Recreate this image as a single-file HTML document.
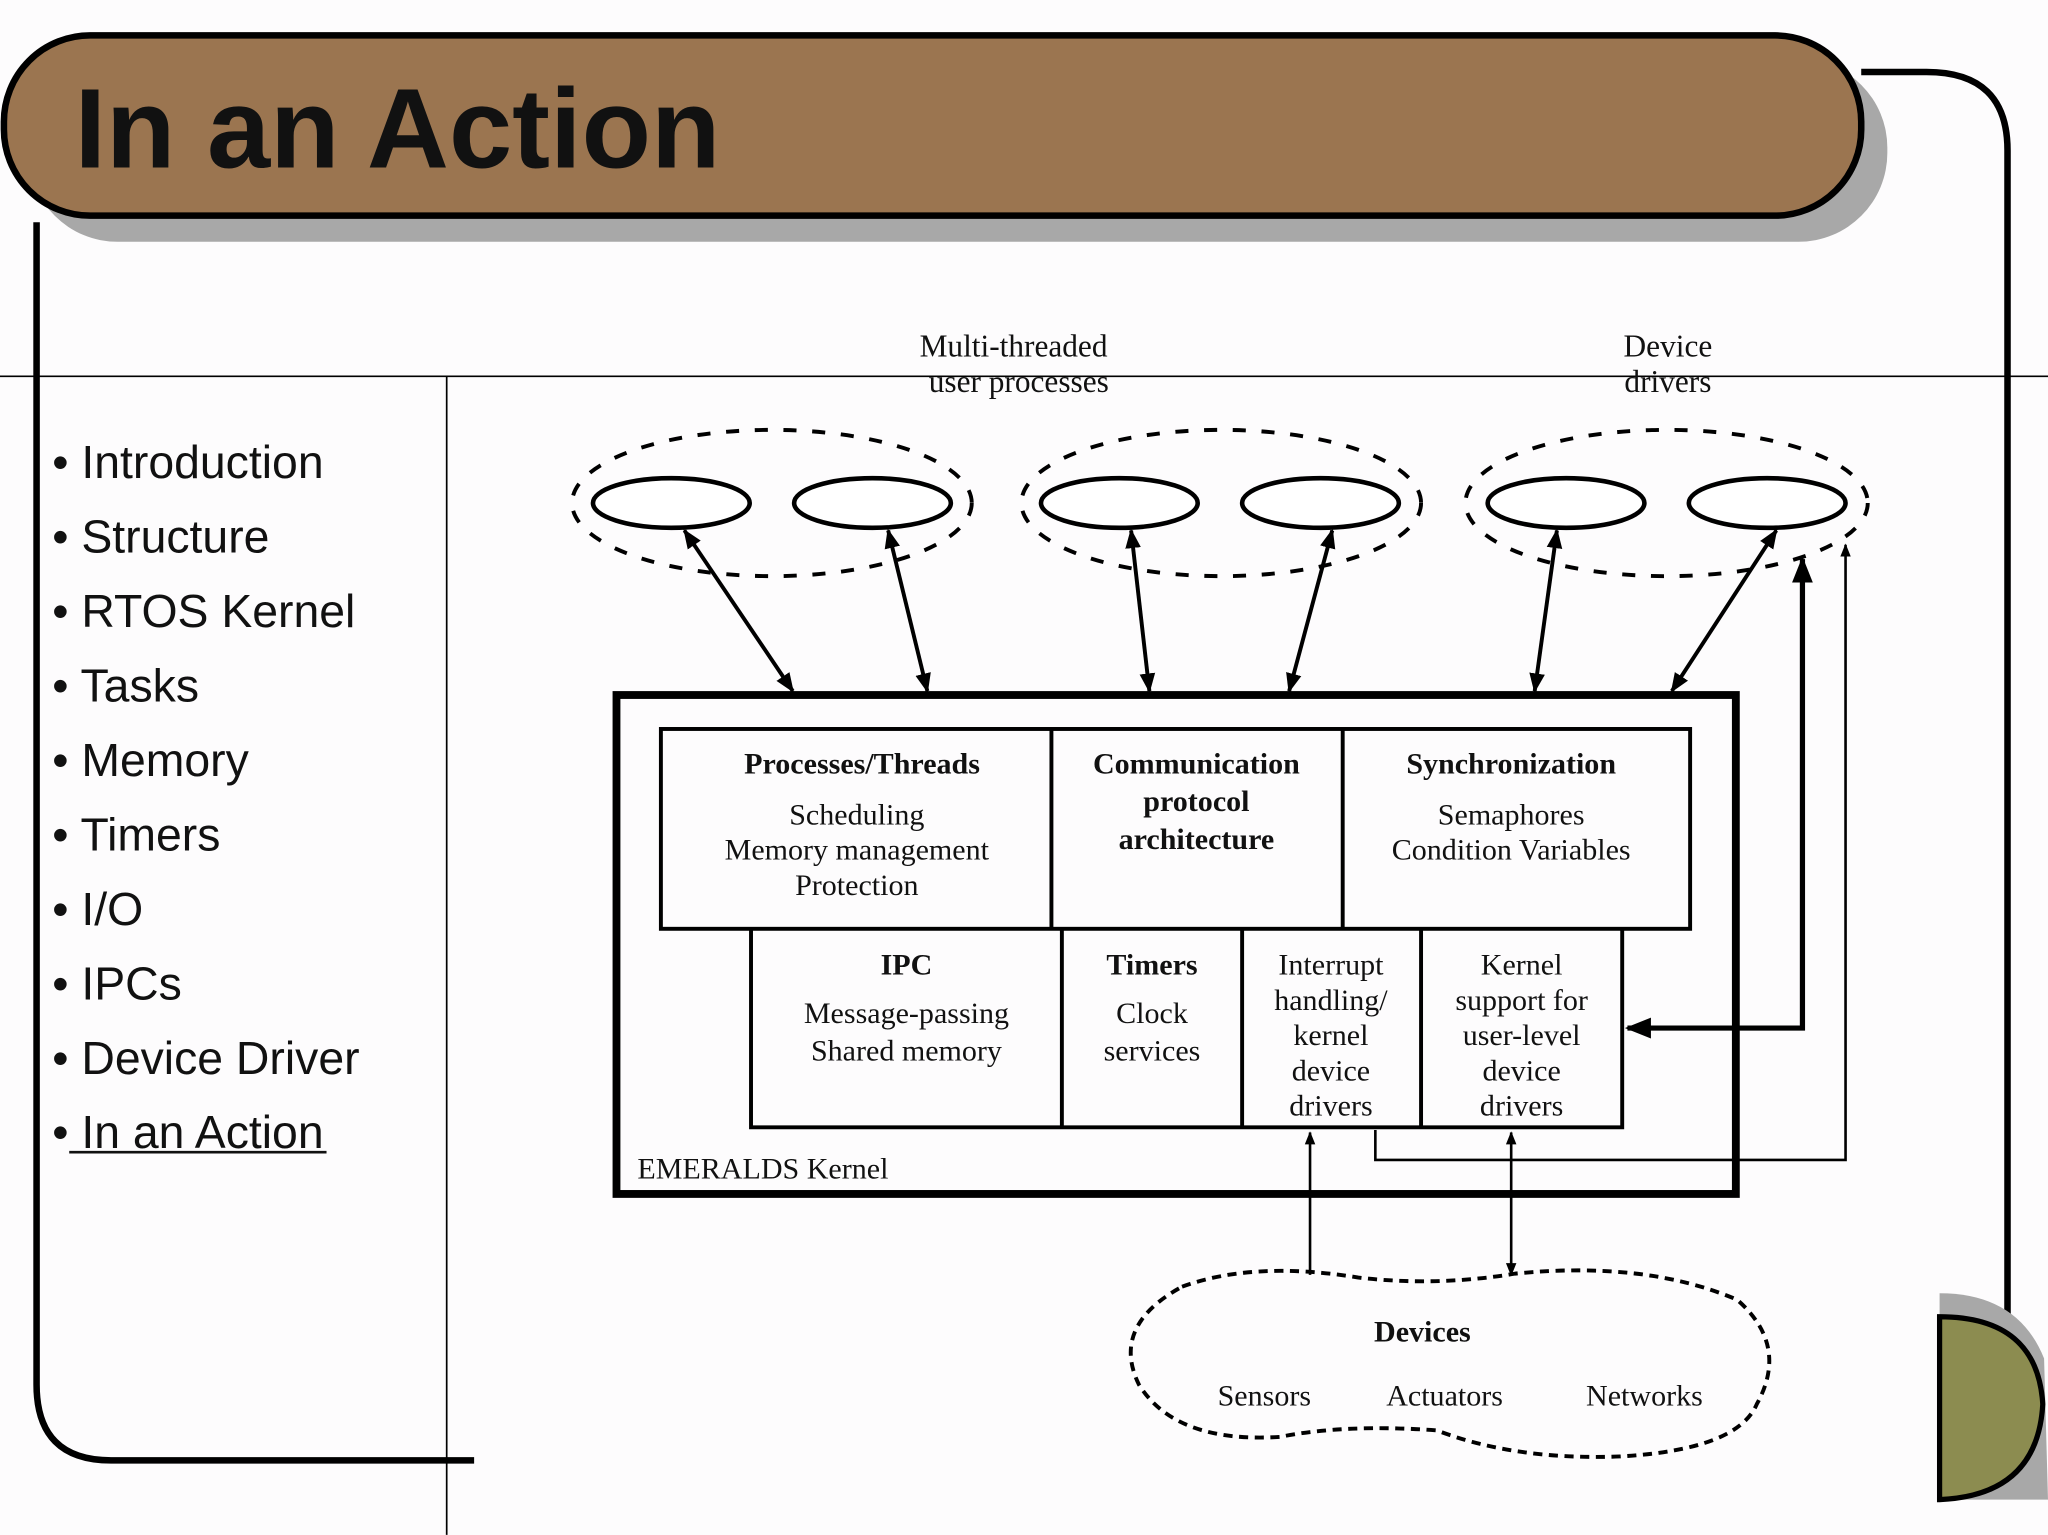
<!DOCTYPE html>
<html><head><meta charset="utf-8"><style>
html,body{margin:0;padding:0;background:#fff;width:2048px;height:1535px;overflow:hidden}
svg{display:block}
.s{font-family:"Liberation Serif",serif;fill:#111}
.b{font-family:"Liberation Sans",sans-serif;fill:#111}
</style></head><body>
<svg width="2048" height="1535" viewBox="0 0 1568 1175" xmlns="http://www.w3.org/2000/svg">
<defs>
<marker id="a" viewBox="0 0 10 10" refX="9" refY="5" markerWidth="5" markerHeight="5" orient="auto-start-reverse"><path d="M0,1 L10,5 L0,9 z" fill="#000"/></marker>
</defs>
<rect width="1568" height="1175" fill="#fdfcfd"/>
<path d="M1425,55 L1475,55 Q1537,55 1537,115 L1537,1010" fill="none" stroke="#000" stroke-width="5"/>
<path d="M28,170 L28,1060 Q28,1118 85,1118 L363,1118" fill="none" stroke="#000" stroke-width="5"/>
<rect x="22" y="45" width="1423" height="140" rx="68" fill="#a8a8a8"/>
<rect x="3" y="27" width="1422" height="138" rx="66" fill="#9b7550" stroke="#000" stroke-width="5"/>
<text x="57" y="128" class="b" font-size="87" font-weight="bold">In an Action</text>
<line x1="0" y1="288" x2="1568" y2="288" stroke="#000" stroke-width="1.3"/>
<line x1="342" y1="288" x2="342" y2="1175" stroke="#000" stroke-width="1.3"/>
<g class="b" font-size="35.5">
<text x="40" y="366">• Introduction</text>
<text x="40" y="423">• Structure</text>
<text x="40" y="480">• RTOS Kernel</text>
<text x="40" y="537">• Tasks</text>
<text x="40" y="594">• Memory</text>
<text x="40" y="651">• Timers</text>
<text x="40" y="708">• I/O</text>
<text x="40" y="765">• IPCs</text>
<text x="40" y="822">• Device Driver</text>
<text x="40" y="879">• In an Action</text>
</g>
<line x1="53" y1="882" x2="250" y2="882" stroke="#111" stroke-width="2"/>
<path d="M1485,990 Q1545,990 1565,1040 L1568,1148 L1485,1148 z" fill="#a8a8a8"/>
<path d="M1485,1008 Q1560,1008 1564,1075 Q1560,1145 1485,1148 z" fill="#8c8c50" stroke="#000" stroke-width="4"/>
<g class="s" font-size="24" text-anchor="middle">
<text x="776" y="273">Multi-threaded</text>
<text x="780" y="300">user processes</text>
<text x="1277" y="273">Device</text>
<text x="1277" y="300">drivers</text>
</g>
<g fill="none" stroke="#000" stroke-width="3" stroke-dasharray="10,12">
<ellipse cx="591" cy="385" rx="153" ry="56"/>
<ellipse cx="935" cy="385" rx="153" ry="56"/>
<ellipse cx="1276" cy="385" rx="154" ry="56"/>
</g>
<g fill="#fff" stroke="#000" stroke-width="3.5">
<ellipse cx="514" cy="385" rx="60" ry="19"/>
<ellipse cx="668" cy="385" rx="60" ry="19"/>
<ellipse cx="857" cy="385" rx="60" ry="19"/>
<ellipse cx="1011" cy="385" rx="60" ry="19"/>
<ellipse cx="1199" cy="385" rx="60" ry="19"/>
<ellipse cx="1353" cy="385" rx="60" ry="19"/>
</g>
<g stroke="#000" stroke-width="3" marker-start="url(#a)" marker-end="url(#a)">
<line x1="524" y1="406" x2="607" y2="529"/>
<line x1="680" y1="406" x2="710" y2="529"/>
<line x1="866" y1="406" x2="880" y2="529"/>
<line x1="1020" y1="406" x2="987" y2="529"/>
<line x1="1192" y1="406" x2="1175" y2="529"/>
<line x1="1360" y1="406" x2="1280" y2="529"/>
</g>
<rect x="472" y="532" width="857" height="382" fill="none" stroke="#000" stroke-width="6"/>
<rect x="506" y="558" width="788" height="153" fill="none" stroke="#000" stroke-width="3"/>
<line x1="805" y1="558" x2="805" y2="711" stroke="#000" stroke-width="3"/>
<line x1="1028" y1="558" x2="1028" y2="711" stroke="#000" stroke-width="3"/>
<path d="M575,711 L575,863 L1242,863 L1242,711" fill="none" stroke="#000" stroke-width="3"/>
<line x1="813" y1="711" x2="813" y2="863" stroke="#000" stroke-width="3"/>
<line x1="951" y1="711" x2="951" y2="863" stroke="#000" stroke-width="3"/>
<line x1="1088" y1="711" x2="1088" y2="863" stroke="#000" stroke-width="3"/>
<g class="s" font-size="23" text-anchor="middle">
<text x="660" y="592" font-weight="bold">Processes/Threads</text>
<text x="656" y="631">Scheduling</text>
<text x="656" y="658">Memory management</text>
<text x="656" y="685">Protection</text>
<text x="916" y="592" font-weight="bold">Communication</text>
<text x="916" y="621" font-weight="bold">protocol</text>
<text x="916" y="650" font-weight="bold">architecture</text>
<text x="1157" y="592" font-weight="bold">Synchronization</text>
<text x="1157" y="631">Semaphores</text>
<text x="1157" y="658">Condition Variables</text>
<text x="694" y="746" font-weight="bold">IPC</text>
<text x="694" y="783">Message-passing</text>
<text x="694" y="812">Shared memory</text>
<text x="882" y="746" font-weight="bold">Timers</text>
<text x="882" y="783">Clock</text>
<text x="882" y="812">services</text>
<text x="1019" y="746">Interrupt</text>
<text x="1019" y="773">handling/</text>
<text x="1019" y="800">kernel</text>
<text x="1019" y="827">device</text>
<text x="1019" y="854">drivers</text>
<text x="1165" y="746">Kernel</text>
<text x="1165" y="773">support for</text>
<text x="1165" y="800">user-level</text>
<text x="1165" y="827">device</text>
<text x="1165" y="854">drivers</text>
</g>
<text x="488" y="902" class="s" font-size="23">EMERALDS Kernel</text>
<path d="M1246,787 L1380,787 L1380,428" fill="none" stroke="#000" stroke-width="4" marker-start="url(#a)" marker-end="url(#a)"/>
<path d="M1053,865 L1053,888 L1413,888 L1413,417" fill="none" stroke="#000" stroke-width="2" marker-end="url(#a)"/>
<line x1="1003" y1="867" x2="1003" y2="976" stroke="#000" stroke-width="2" marker-start="url(#a)"/>
<line x1="1157" y1="867" x2="1157" y2="976" stroke="#000" stroke-width="2" marker-start="url(#a)" marker-end="url(#a)"/>
<path d="M905,985 Q960,965 1040,978 Q1100,985 1160,975 Q1260,965 1330,995 Q1370,1030 1345,1075 Q1330,1110 1240,1115 Q1160,1118 1100,1095 Q1030,1090 980,1100 Q900,1105 872,1060 Q850,1015 905,985 z" fill="none" stroke="#000" stroke-width="3" stroke-dasharray="7,5"/>
<g class="s" font-size="23" text-anchor="middle">
<text x="1089" y="1027" font-weight="bold">Devices</text>
<text x="968" y="1076">Sensors</text>
<text x="1106" y="1076">Actuators</text>
<text x="1259" y="1076">Networks</text>
</g>
</svg>
</body></html>
